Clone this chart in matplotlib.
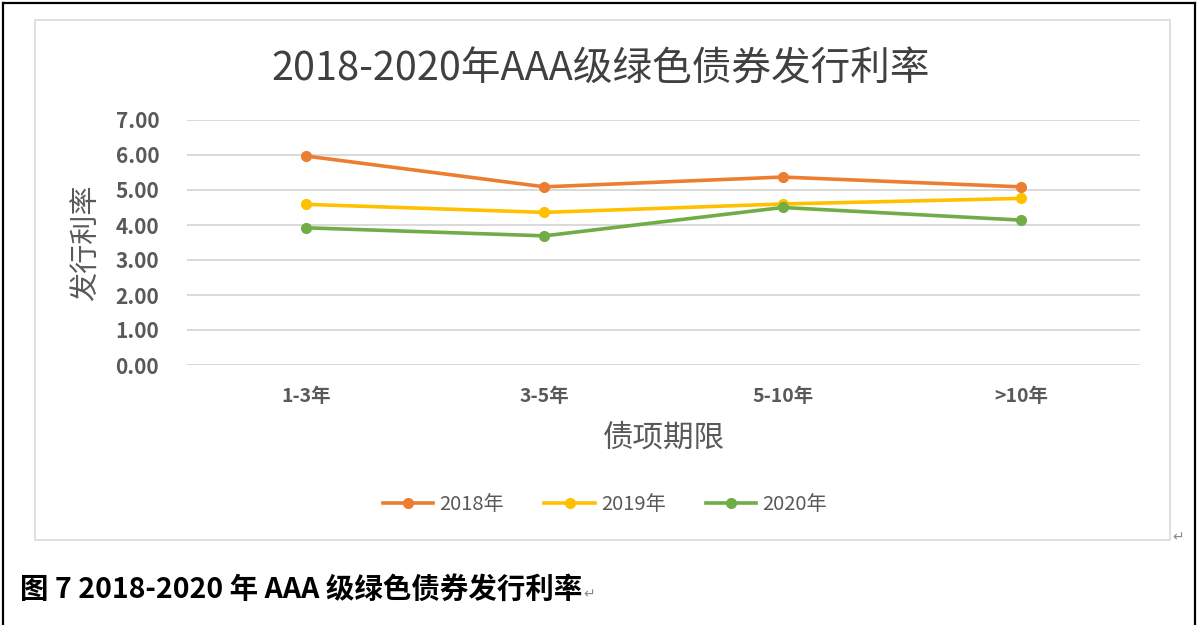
import numpy as np
import matplotlib.pyplot as plt
from matplotlib.patches import Rectangle
from matplotlib.lines import Line2D

plt.rcParams['font.family'] = ['Noto Sans CJK SC', 'DejaVu Sans']

# data
terms = ["1-3年", "3-5年", "5-10年", ">10年"]
rate_2018 = [5.97, 5.09, 5.37, 5.09]
rate_2019 = [4.59, 4.36, 4.60, 4.76]
rate_2020 = [3.92, 3.69, 4.50, 4.14]
series_names = ["2018年", "2019年", "2020年"]
series_colors = ["#ED7D31", "#FFC000", "#70AD47"]
yticks = [0, 1, 2, 3, 4, 5, 6, 7]

W, H = 1198, 625


def fx(px):
    return px / W


def fy(py):
    return 1 - py / H


fig = plt.figure(figsize=(W / 100, H / 100), dpi=100)

# outer page frame and inner chart box
fig.add_artist(Line2D([fx(3), fx(1195)], [fy(3), fy(3)], color="black", lw=1.6))
fig.add_artist(Line2D([fx(3), fx(3)], [fy(3), 0], color="black", lw=1.6))
fig.add_artist(Line2D([fx(1195), fx(1195)], [fy(3), 0], color="black", lw=1.6))
fig.add_artist(Rectangle((fx(35), fy(540)), fx(1135), 520 / H,
                         fill=False, edgecolor="#D9D9D9", lw=1.2))

ax = fig.add_axes([fx(187), fy(365), fx(1140 - 187), (365 - 120) / H])
x = np.arange(len(terms))
for vals, name, col in zip([rate_2018, rate_2019, rate_2020], series_names, series_colors):
    ax.plot(x, vals, color=col, lw=2.6, marker="o", markersize=7, label=name, zorder=3)

ax.set_xlim(-0.5, len(terms) - 0.5)
ax.set_ylim(0, 7)
ax.set_yticks(yticks)
ax.set_yticklabels([f"{v:.2f}" for v in yticks])
ax.set_xticks(x)
ax.set_xticklabels(terms)
ax.grid(axis="y", color="#D9D9D9", lw=1.4)
ax.set_axisbelow(True)
for s in ax.spines.values():
    s.set_visible(False)
ax.tick_params(length=0, colors="#595959")
ax.tick_params(axis="y", labelsize=15, pad=20)
ax.tick_params(axis="x", labelsize=14, pad=16)
for lab in ax.get_yticklabels() + ax.get_xticklabels():
    lab.set_fontweight("bold")

ax.set_xlabel("债项期限", fontsize=22, color="#595959", labelpad=12)
ax.set_ylabel("发行利率", fontsize=21, color="#595959", labelpad=10)

fig.text(fx(601), fy(70), "2018-2020年AAA级绿色债券发行利率", fontsize=28.5,
         color="#404040", ha="center", va="center")

ax.legend(loc="center", bbox_to_anchor=(fx(605), fy(505)), bbox_transform=fig.transFigure,
          ncol=3, frameon=False, fontsize=14.5, handlelength=2.5, columnspacing=2.0,
          handletextpad=0.3, labelcolor="#595959")

fig.text(fx(20), fy(590), "图 7 2018-2020 年 AAA 级绿色债券发行利率", fontsize=20.5,
         fontweight="bold", color="black", ha="left", va="center")
fig.text(fx(583), fy(594), "↵", fontsize=10, color="#888888", ha="left", va="center",
         family=["DejaVu Sans"])
fig.text(fx(1172), fy(537), "↵", fontsize=10, color="#888888", ha="left", va="center",
         family=["DejaVu Sans"])

fig.savefig("out.png", dpi=100)
